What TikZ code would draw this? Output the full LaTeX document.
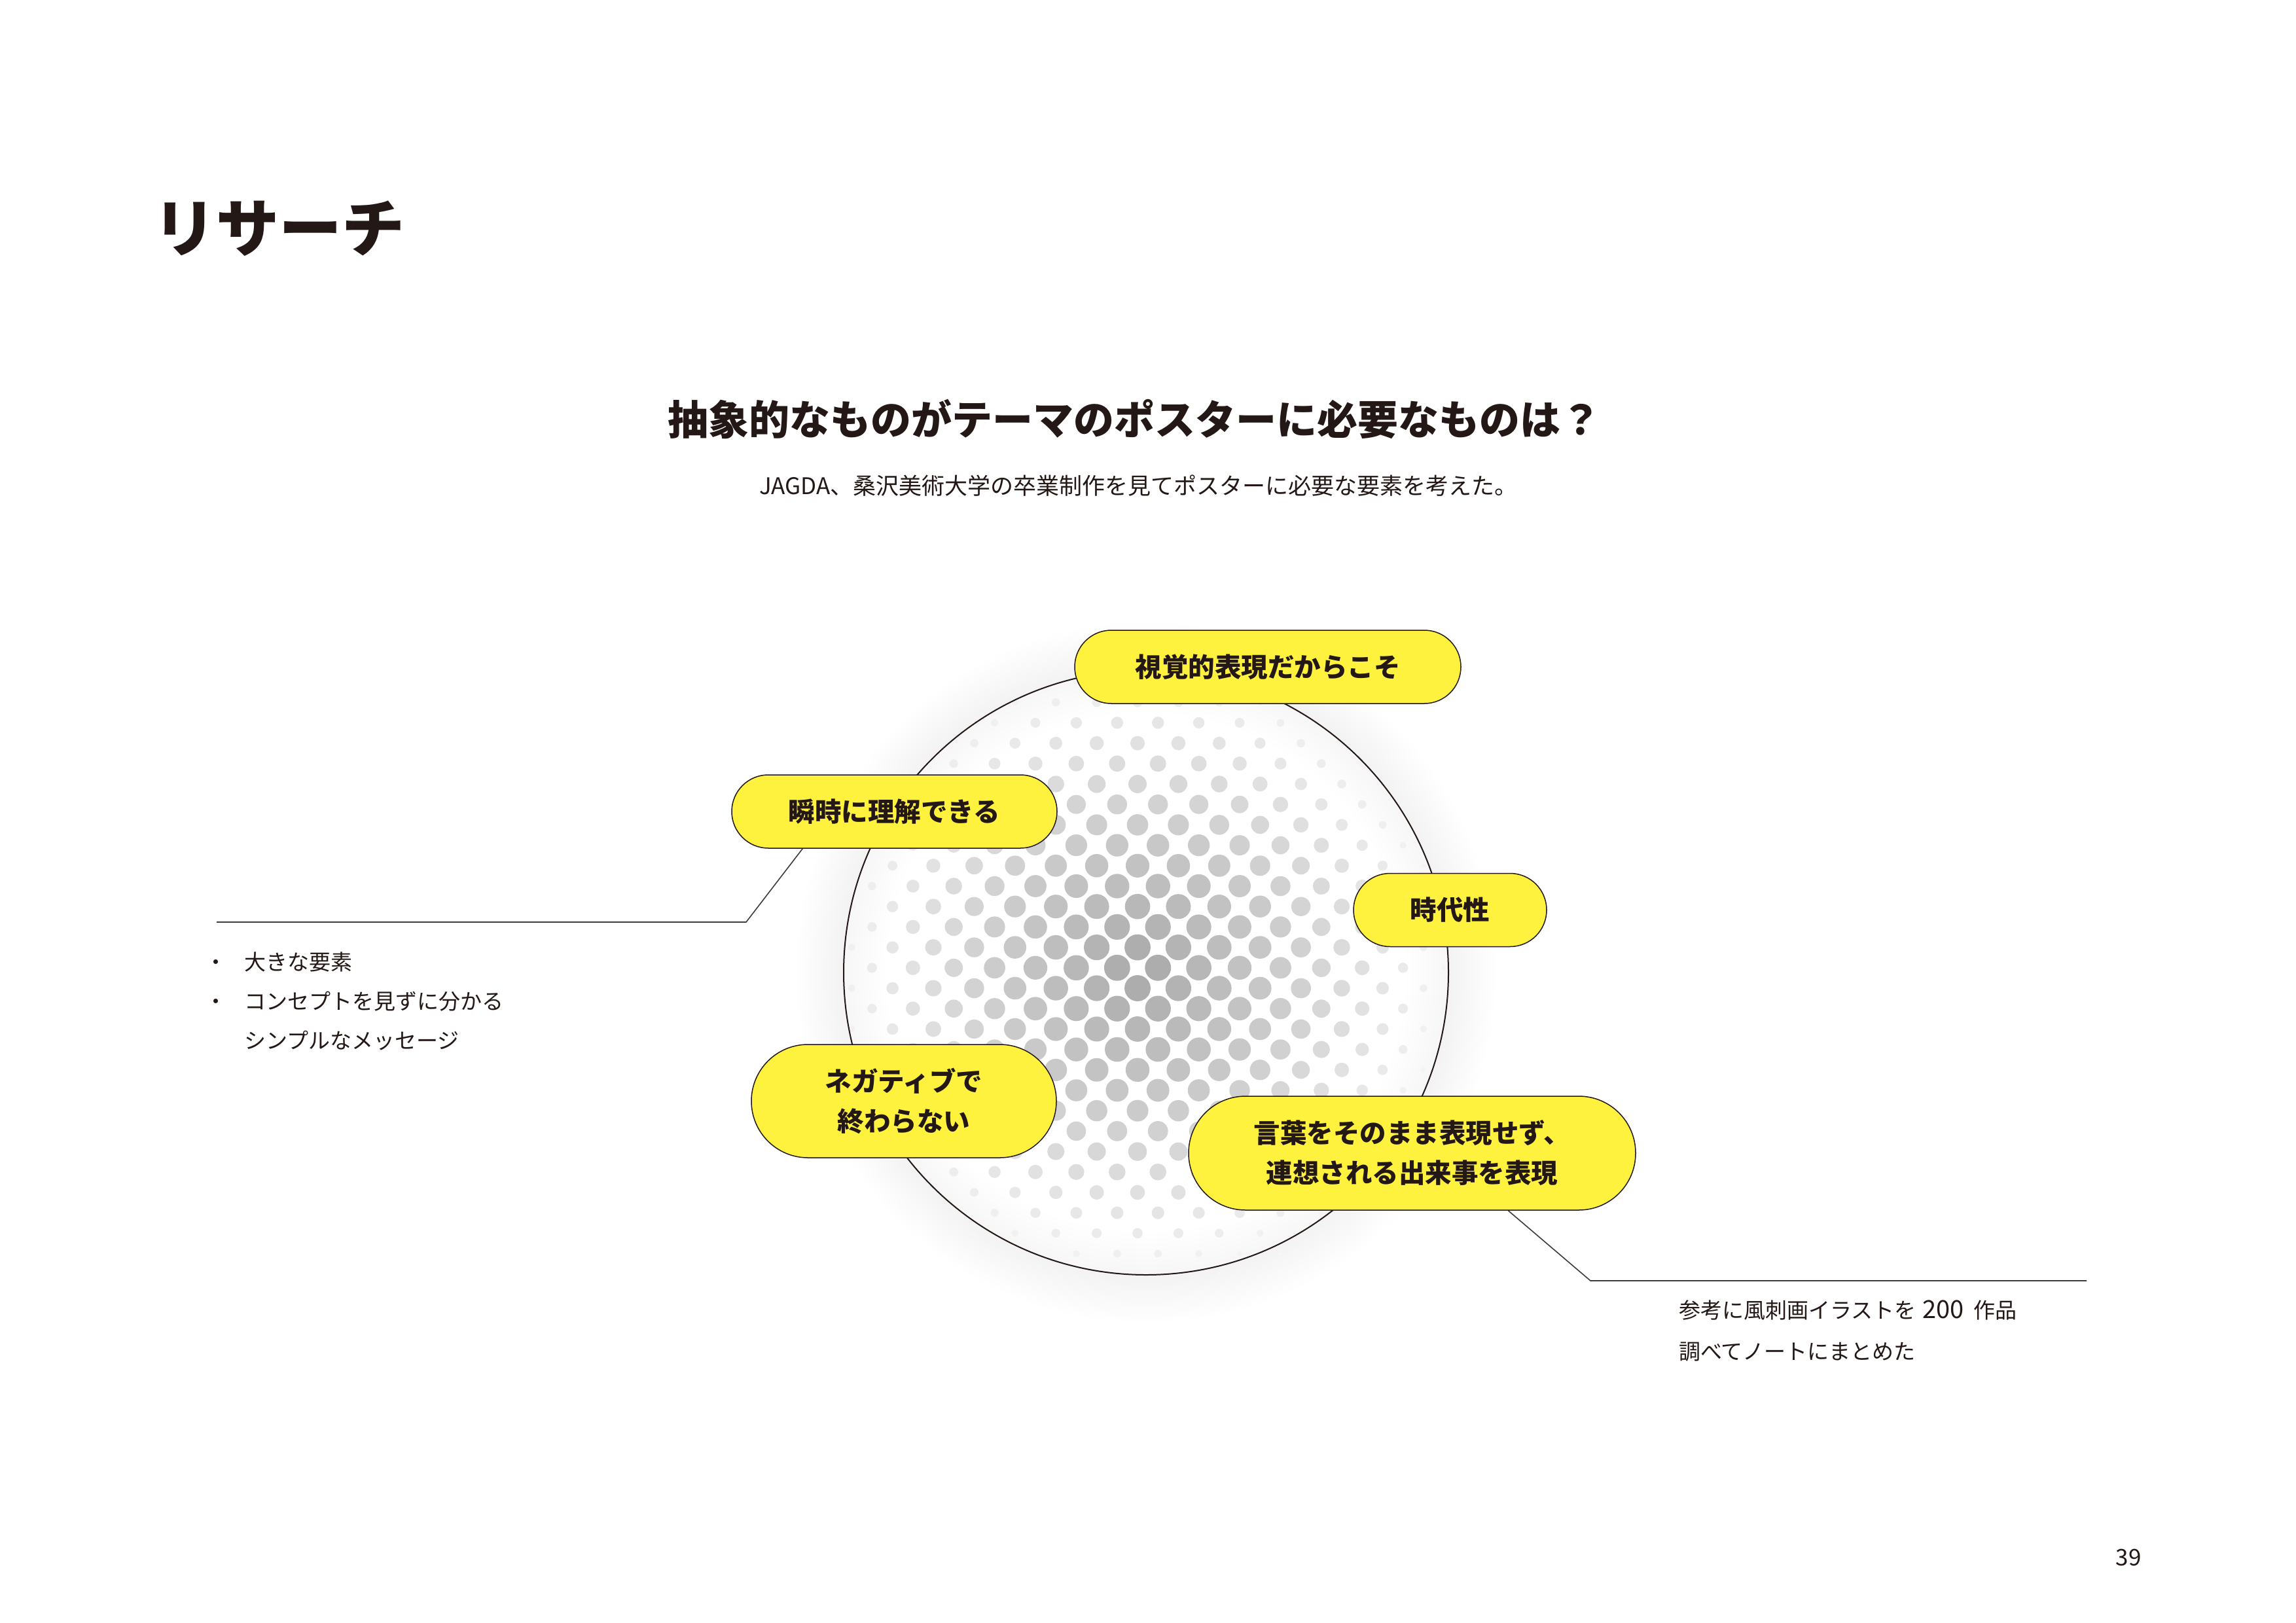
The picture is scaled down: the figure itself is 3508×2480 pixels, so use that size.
\documentclass[tikz,border=0pt]{standalone}
\usepackage{fontspec}
\setmainfont{Noto Sans CJK JP}
\usetikzlibrary{calc}

\definecolor{ink}{HTML}{231815}
\definecolor{pillyellow}{HTML}{FFF23F}
\definecolor{leader}{HTML}{3E3A39}

\tikzset{
  pill/.style={draw=ink, line width=1.5pt, fill=pillyellow, rounded corners=#1,
    inner sep=0pt, align=center, text=ink,
    font=\bfseries\fontsize{40.5}{61}\selectfont},
  leadline/.style={draw=leader, line width=1.6pt},
  bodytext/.style={inner sep=0pt, text=ink},
}

\begin{document}
\begin{tikzpicture}[x=1pt, y=-1pt]
  % page
  \fill[white] (0,0) rectangle (3508,2480);
  \useasboundingbox (0,0) rectangle (3508,2480);

  % headings
  \node[anchor=base west, inner sep=0pt, text=ink,
        font=\bfseries\fontsize{96}{110}\selectfont] (title) at (234,384) {リサーチ};
  \node[anchor=base west, inner sep=0pt, text=ink,
        font=\bfseries\fontsize{62}{70}\selectfont] (question) at (1020,664)
        {抽象的なものがテーマのポスターに必要なものは？};
  \node[anchor=base west, inner sep=0pt, text=ink,
        font=\fontsize{35}{40}\selectfont] (lead) at (1160,755)
        {JAGDA、桑沢美術大学の卒業制作を見てポスターに必要な要素を考えた。};

  % soft shadow around the disc
  \coordinate (hub) at (1751,1486);
  \foreach \k in {1,...,12}{
    \fill[black, opacity=0.003] (hub) circle[radius={(462+6*\k)*1pt}];
  }
  % white disc
  \fill[white] (hub) circle[radius=462pt];
  % faint inner rim tint
  \foreach \k in {1,...,8}{
    \fill[black, opacity=0.003, even odd rule] (hub) circle[radius=462pt]
      circle[radius={(462-8*\k)*1pt}];
  }

  % halftone dots: checkerboard lattice, shrinking and fading outward
  \foreach \i in {-16,...,16}{
    \foreach \j in {-16,...,16}{
      \pgfmathtruncatemacro\oddsum{mod(\i+\j+64,2)}
      \ifnum\oddsum=0
        \pgfmathsetmacro\dotx{1738+31.2*\i}
        \pgfmathsetmacro\doty{1510+31.2*\j}
        \pgfmathsetmacro\dotu{(\dotx-1740)/100}
        \pgfmathsetmacro\dotv{(\doty-1482)/100}
        \pgfmathsetmacro\dotd{sqrt(\dotu*\dotu+\dotv*\dotv)}
        \pgfmathsetmacro\dotr{20-0.75*\dotd*\dotd}
        \pgfmathsetmacro\dotk{max(34-6.4*\dotd,3)}
        \ifdim\dotr pt>2.2pt
          \fill[black!\dotk] (\dotx,\doty) circle[radius=\dotr pt];
        \fi
      \fi
    }
  }

  % disc outline
  \draw[ink, line width=2pt] (hub) circle[radius=462pt];

  % keyword pills
  \node[pill=55.9pt, minimum width=590pt, minimum height=112pt] (p1) at (1937,1019)
    {視覚的表現だからこそ};
  \node[pill=55.9pt, minimum width=497pt, minimum height=112pt] (p2) at (1366.5,1240)
    {瞬時に理解できる};
  \node[pill=55.9pt, minimum width=295pt, minimum height=112pt] (p3) at (2215.5,1390.5)
    {時代性};
  \node[pill=86.4pt, minimum width=466pt, minimum height=173pt] (p4) at (1381,1682.5)
    {ネガティブで\\終わらない};
  \node[pill=86.9pt, minimum width=683pt, minimum height=174pt] (p5) at (2157.5,1762)
    {言葉をそのまま表現せず、\\連想される出来事を表現};

  % leader lines to the notes
  \coordinate (lbend) at (1140,1409);
  \coordinate (lend) at (331,1409);
  \draw[leadline] ($(p2.south west)+(109,0)$) -- (lbend) -- (lend);
  \coordinate (rbend) at (2430,1957);
  \coordinate (rend) at (3188,1957);
  \draw[leadline] ($(p5.south west)+(489,0)$) -- (rbend) -- (rend);

  % notes (anchored at the baseline of their last line)
  \node[bodytext, anchor=base west, align=left, font=\fontsize{33}{60}\selectfont]
    (leftnotes) at (313,1602)
    {\makebox[60pt][l]{・}大きな要素\\
     \makebox[60pt][l]{・}コンセプトを見ずに分かる\\
     \hspace*{60pt}シンプルなメッセージ};
  \node[bodytext, anchor=base west, align=left, font=\fontsize{33}{63}\selectfont]
    (rightnotes) at (2565,2077)
    {参考に風刺画イラストを\hspace{10pt}{\fontsize{38}{63}\selectfont 200}\hspace{15pt}作品\\
     調べてノートにまとめた};

  % page number
  \node[anchor=base, inner sep=0pt, text=ink, font=\fontsize{35}{40}\selectfont]
    (pageno) at (3252,2392) {39};
\end{tikzpicture}
\end{document}
